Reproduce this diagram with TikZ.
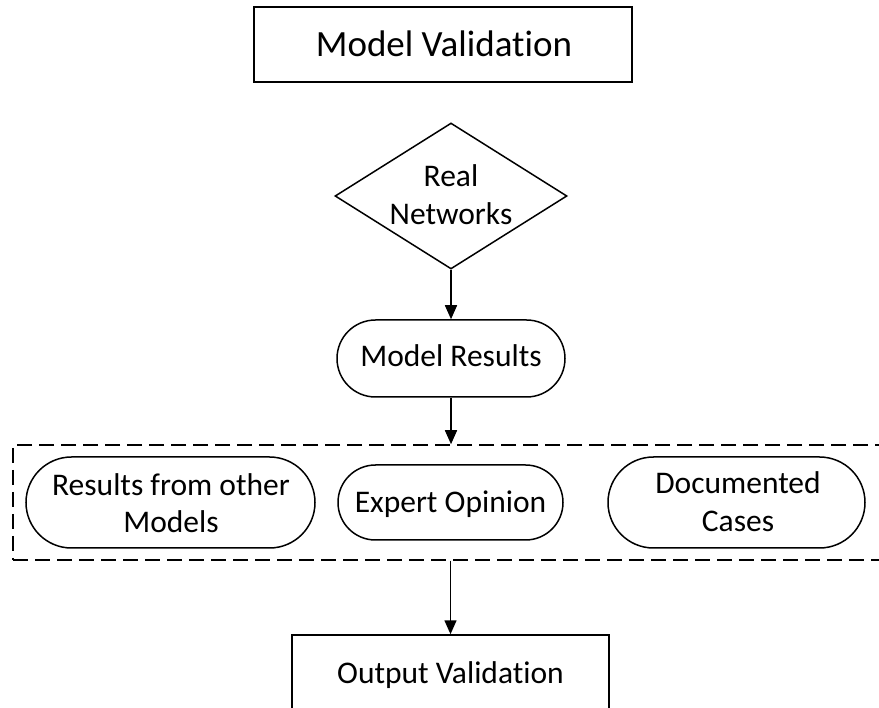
\documentclass[tikz,border=0pt]{standalone}
\usepackage{fontspec}
\setmainfont{Carlito}[Ligatures=NoCommon]
\usetikzlibrary{arrows.meta,shapes.geometric}
\begin{document}
\begin{tikzpicture}[x=1pt,y=-1pt,
  shapebox/.style={draw, line width=1.5pt, inner sep=0pt},
  pill/.style={shapebox, rounded corners=#1},
  txt/.style={inner sep=0pt, anchor=base, align=center, font=\fontsize{31.5}{38}\selectfont},
  arr/.style={line width=1.5pt, -{Triangle[length=14pt,width=12pt]}}]
\useasboundingbox (0,0) rectangle (879,708);
\clip (0,0) rectangle (879,708);
% shapes
\node[shapebox, minimum width=378pt, minimum height=75pt] (title) at (443,44.5) {};
\node[shapebox, diamond, minimum width=232pt, minimum height=146pt] (dia) at (451,196) {};
\node[pill=38.5pt, minimum width=228pt, minimum height=77pt] (mr) at (451,358.5) {};
\node[draw, line width=1.5pt, dash pattern=on 15pt off 7pt, inner sep=0pt, minimum width=887pt, minimum height=115pt] (grp) at (456.5,502.5) {};
\node[pill=45.5pt, minimum width=289pt, minimum height=91pt] (rfm) at (170.5,502.5) {};
\node[pill=37.5pt, minimum width=225pt, minimum height=75pt] (eo) at (450.5,502.5) {};
\node[pill=45.5pt, minimum width=257pt, minimum height=91pt] (dc) at (736.5,502.5) {};
\node[shapebox, minimum width=317pt, minimum height=75pt] (ov) at (450.5,672.5) {};
% texts (base anchor = baseline of last line)
\node[txt, font=\fontsize{37}{44}\selectfont] (titlet) at (444,57) {Model Validation};
\node[txt] (diat) at (451,225) {Real\\Networks};
\node[txt] (mrt) at (451,367) {Model Results};
\node[txt] (rfmt) at (171,533) {Results from other\\Models};
\node[txt] (eot) at (450.5,513) {Expert Opinion};
\node[txt] (dct) at (738,532) {Documented\\Cases};
\node[txt] (ovt) at (450.5,683) {Output Validation};
% connectors
\draw[arr] (dia.south) -- (mr.north);
\draw[arr] (mr.south) -- (mr.south |- grp.north);
\draw[arr] (grp.south -| ov.north) -- (ov.north);
\end{tikzpicture}
\end{document}
